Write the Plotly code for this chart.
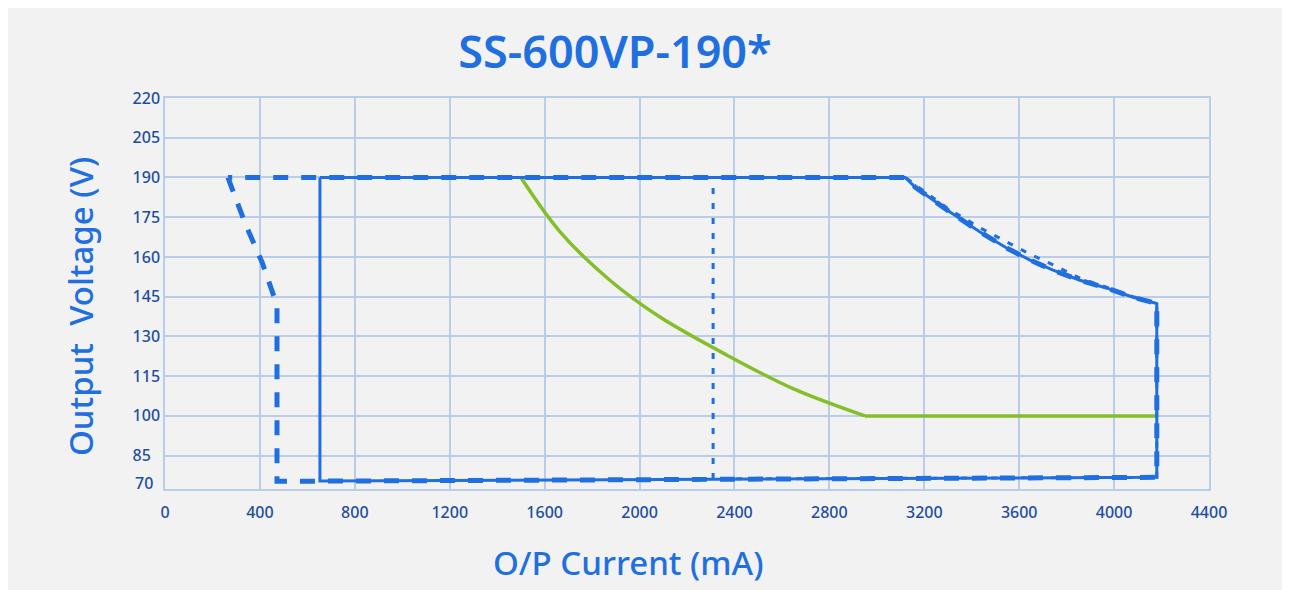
import plotly.graph_objects as go

# ---- axis ticks ----
x_ticks = [0, 400, 800, 1200, 1600, 2000, 2400, 2800, 3200, 3600, 4000, 4400]
y_ticks = [85, 100, 115, 130, 145, 160, 175, 190, 205, 220]
y_tick_text = ["85\u2007", "100", "115", "130", "145", "160", "175", "190", "205", "220"]
y_bottom_label = "70"

# ---- dashed outline (current mA, voltage V) ----
dash_i = [265, 337, 409, 455, 472, 472, 4180, 4180, 4172, 4080, 3970, 3856, 3743,
          3646, 3549, 3435, 3296, 3161, 3120, 265]
dash_v = [190, 172.8, 158, 146.7, 141.8, 75.3, 76.8, 142.4, 142.6, 144.8, 148.2,
          151.2, 155.0, 158.8, 163.3, 169.4, 177.7, 186.4, 190, 190]

# ---- solid outline ----
solid_i = [653, 653, 4180, 4180, 4172, 4080, 3970, 3856, 3743, 3646, 3549, 3435,
           3296, 3161, 3120, 653]
solid_v = [190, 75.4, 76.8, 142.4, 142.6, 144.8, 148.2, 151.2, 155.0, 158.8, 163.3,
           169.4, 177.7, 186.4, 190, 190]

# ---- dotted outline ----
dot_i = [2310, 2310, 3120, 3296, 3435, 3549, 3646, 3743, 3856, 3970, 4080, 4172,
         4180, 4180, 2310]
dot_v = [76.2, 190, 190, 178.5, 171.0, 165.5, 161.0, 157.0, 152.0, 148.5, 145.0,
         142.6, 142.4, 76.8, 76.2]

# ---- green curve ----
green_i = [1500, 1665, 1875, 2086, 2367, 2647, 2950]
green_v = [190, 169.5, 151.2, 137.3, 123.0, 110.3, 100]
green_flat_i = [2950, 4180]
green_flat_v = [100, 100]

BLUE = "#1f6fe0"
GREEN = "#84bf2a"
GRID = "#b9cde8"
TICK = "#1f4e9e"
BG = "#f2f2f2"

fig = go.Figure()
fig.add_trace(go.Scatter(x=green_i, y=green_v, mode="lines",
                         line=dict(color=GREEN, width=3.5, shape="spline", smoothing=1.0),
                         showlegend=False))
fig.add_trace(go.Scatter(x=green_flat_i, y=green_flat_v, mode="lines",
                         line=dict(color=GREEN, width=3.5), showlegend=False))
fig.add_trace(go.Scatter(x=dot_i, y=dot_v, mode="lines",
                         line=dict(color=BLUE, width=3, dash="6px,9px"), showlegend=False))
fig.add_trace(go.Scatter(x=solid_i, y=solid_v, mode="lines",
                         line=dict(color=BLUE, width=3), showlegend=False))
fig.add_trace(go.Scatter(x=dash_i, y=dash_v, mode="lines",
                         line=dict(color=BLUE, width=5, dash="15px,13px"), showlegend=False))

W, H = 1276, 582
fig.update_layout(
    width=W, height=H,
    margin=dict(l=157, r=75, t=90, b=101),
    paper_bgcolor=BG, plot_bgcolor=BG,
    font=dict(family="Noto Sans", color=TICK),
    title=dict(text="SS-600VP-190*", x=607 / W, xanchor="center",
               y=1 - 44 / H, yanchor="middle", yref="container",
               font=dict(family="Noto Sans", size=45, weight=600, color=BLUE)),
    xaxis=dict(range=[0, 4400], tickvals=x_ticks, showgrid=True, gridcolor=GRID,
               gridwidth=1.5, showline=True, linecolor=GRID, linewidth=1.5, mirror=True,
               zeroline=False, ticks="", ticklabelstandoff=8,
               tickfont=dict(size=16, weight=500, color=TICK)),
    yaxis=dict(range=[72.4, 220], tickvals=y_ticks, ticktext=y_tick_text,
               showgrid=True, gridcolor=GRID, gridwidth=1.5, showline=True,
               linecolor=GRID, linewidth=1.5, mirror=True, zeroline=False, ticks="",
               ticklabelstandoff=0, tickfont=dict(size=16, weight=500, color=TICK)),
    annotations=[
        dict(text=y_bottom_label, xref="paper", yref="paper",
             x=-32 / 1044, xanchor="left", y=6 / 391, yanchor="middle",
             showarrow=False, font=dict(size=16, weight=500, color=TICK)),
        dict(text="O/P Current (mA)", xref="paper", yref="paper",
             x=(628 - 165) / 1044, xanchor="center", y=(489 - 562) / 391, yanchor="middle",
             showarrow=False, font=dict(size=33, weight=500, color=BLUE)),
        dict(text="Output\u00a0\u00a0Voltage (V)", xref="paper", yref="paper",
             x=(80 - 165) / 1044, xanchor="center", y=(489 - 307) / 391, yanchor="middle",
             textangle=-90, showarrow=False, font=dict(size=33, weight=500, color=BLUE)),
    ],
)

fig.write_html("out.html")
